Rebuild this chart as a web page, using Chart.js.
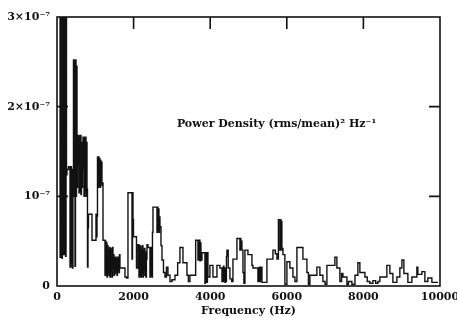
<!DOCTYPE html>
<html>
<head>
<meta charset="utf-8">
<script src="https://cdn.jsdelivr.net/npm/chart.js@4/dist/chart.umd.min.js"></script>
<style>
html,body{margin:0;padding:0;background:#fff;}
#wrap{width:457px;height:318px;position:relative;}
</style>
</head>
<body>
<div id="wrap"><canvas id="c" width="457" height="318"></canvas></div>
<script>
// Frequency (Hz) of each step of the spectrum
const freqHz = [
  80,92,104,116,128,140,152,164,176,188,200,212,224,236,248,260,300,340,
  365,378,391,404,417,430,444,457,470,483,496,509,522,535,548,
  574,587,600,613,626,639,652,665,679,705,718,731,744,757,770,783,796,
  809,822,914,1018,1031,1044,1057,1070,1083,1096,1109,1122,1135,1148,1161,1174,1187,1201,
  1253,1266,1279,1292,1305,1318,1331,1344,1357,1370,1383,1396,1409,1422,1435,1448,1461,1474,1487,1500,
  1514,1527,1540,1553,1566,1579,1592,1605,1618,1631,1644,1775,1814,1853,
  1958,1971,1984,1997,2075,2114,2140,2153,2166,2179,2192,2205,2218,2231,2244,2257,2270,2283,2296,2309,2322,2335,
  2349,2375,2427,2440,2453,2466,2479,2492,2506,2610,2623,2636,2649,2662,2675,2688,2715,2741,2780,2819,2858,2897,
  2950,3002,3080,3150,3210,3289,3393,3430,3471,3620,3680,3693,3706,3719,3732,3745,3758,3771,3785,
  3863,3876,3889,3902,3915,3928,3941,3993,4072,4176,4254,4307,4320,4333,4346,4359,4372,4385,4398,4411,4424,
  4437,4470,4515,4560,4594,4698,4776,4789,4802,4815,4828,4855,4880,4907,4985,5090,5116,
  5246,5259,5272,5285,5298,5311,5324,5337,5351,5481,5638,5700,5742,5781,5820,5833,5846,5859,5872,5885,5899,5950,
  6003,6081,6160,6212,6264,6421,6525,6565,6603,6786,6864,6943,7000,7047,7256,7308,7386,7430,7465,7569,7610,7700,7780,
  7856,7908,8039,8100,8169,8248,8320,8380,8430,8613,8691,8770,8874,8952,9005,9057,9161,9266,9396,9422,9527,9605,9683,9788,9866,9950
];
// Power density in units of 1e-7 (rms/mean)^2 Hz^-1
const powerE7 = [
  3.4,0.32,3.4,0.9,3.4,0.31,3.4,1.1,3.4,0.35,3.4,0.5,3.4,0.33,3.2,1.24,1.3,1.33,
  0.21,1.33,0.25,1.3,0.2,1.3,2.52,1.0,2.5,0.22,2.52,1.0,2.45,1.1,1.35,
  1.68,1.04,1.66,1.05,1.68,1.02,1.6,1.1,1.3,1.66,1.0,1.64,1.05,1.66,1.0,1.6,1.08,
  0.21,0.65,0.8,0.51,0.8,0.55,0.78,1.44,1.1,1.44,1.12,1.42,1.1,1.4,1.15,1.38,1.12,1.15,
  0.51,0.12,0.5,0.14,0.48,0.1,0.45,0.15,0.4,0.12,0.43,0.1,0.42,0.15,0.4,0.1,0.43,0.2,0.35,0.12,
  0.32,0.14,0.3,0.16,0.32,0.12,0.3,0.18,0.32,0.15,0.35,0.2,0.1,0.09,
  1.04,0.3,1.04,0.74,0.55,0.2,0.46,0.1,0.45,0.12,0.44,0.1,0.4,0.15,0.45,0.1,0.4,0.18,0.42,0.12,0.38,0.1,
  0.3,0.46,0.43,0.1,0.42,0.12,0.43,0.1,0.6,0.88,0.6,0.88,0.62,0.86,0.6,0.77,0.66,0.45,0.29,0.15,0.1,0.21,
  0.12,0.05,0.07,0.12,0.26,0.43,0.26,0.12,0.05,0.12,0.51,0.29,0.5,0.3,0.51,0.28,0.48,0.3,0.29,
  0.37,0.03,0.37,0.05,0.36,0.04,0.37,0.1,0.23,0.1,0.23,0.2,0.05,0.2,0.05,0.22,0.06,0.2,0.04,0.18,0.05,
  0.33,0.4,0.2,0.08,0.05,0.3,0.53,0.4,0.53,0.42,0.5,0.4,0.15,0.03,0.4,0.35,0.23,
  0.2,0.05,0.2,0.06,0.21,0.05,0.2,0.08,0.21,0.04,0.3,0.4,0.36,0.3,0.74,0.4,0.74,0.42,0.72,0.4,0.42,0.35,
  0.02,0.27,0.2,0.1,0.05,0.43,0.3,0.15,0.02,0.12,0.21,0.12,0.05,0.02,0.23,0.32,0.2,0.05,0.14,0.1,0.02,0.05,0.02,
  0.12,0.26,0.15,0.1,0.05,0.03,0.06,0.03,0.05,0.1,0.23,0.14,0.04,0.1,0.2,0.29,0.14,0.04,0.1,0.21,0.13,0.16,0.05,0.09,0.04,0.04
];
const yTickLabels = ['0', '10\u207B\u2077', '2\u00D710\u207B\u2077', '3\u00D710\u207B\u2077'];
const topTickValues = [2000, 4000, 6000, 8000];
const sideTickValues = [1, 2];
const xTitle = 'Frequency (Hz)';
const annotationText = 'Power Density (rms/mean)\u00B2 Hz\u207B\u00B9';

const FONT = '"DejaVu Serif", serif';
const INK = '#111';

const points = freqHz.map((f, i) => ({x: f, y: powerE7[i]}));

const frame = {
  id: 'frame',
  afterDatasetsDraw(chart) {
    const {ctx, chartArea: a, scales: {x, y}} = chart;
    ctx.save();
    ctx.strokeStyle = INK;
    ctx.lineWidth = 1.6;
    ctx.strokeRect(a.left, a.top, a.right - a.left, a.bottom - a.top);
    ctx.beginPath();
    topTickValues.forEach(v => {
      const px = x.getPixelForValue(v);
      ctx.moveTo(px, a.top); ctx.lineTo(px, a.top + 12);
    });
    sideTickValues.forEach(v => {
      const py = y.getPixelForValue(v);
      ctx.moveTo(a.left, py); ctx.lineTo(a.left + 11, py);
      ctx.moveTo(a.right, py); ctx.lineTo(a.right - 11, py);
    });
    ctx.stroke();
    ctx.font = 'bold 11px ' + FONT;
    ctx.fillStyle = INK;
    ctx.textBaseline = 'middle';
    ctx.textAlign = 'left';
    ctx.fillText(annotationText, x.getPixelForValue(3130), y.getPixelForValue(1.8));
    ctx.restore();
  }
};

new Chart(document.getElementById('c'), {
  type: 'line',
  data: {
    datasets: [{
      data: points,
      stepped: 'after',
      borderColor: INK,
      borderWidth: 1.4,
      pointRadius: 0,
      fill: false
    }]
  },
  options: {
    responsive: false,
    animation: false,
    events: [],
    layout: {padding: {left: 0, right: 17, top: 17, bottom: 0}},
    plugins: {legend: {display: false}, tooltip: {enabled: false}},
    scales: {
      x: {
        type: 'linear',
        min: 0, max: 10000,
        grid: {display: false, drawTicks: false},
        border: {display: false},
        ticks: {
          stepSize: 2000,
          padding: 5,
          maxRotation: 0,
          color: INK,
          font: {family: FONT, size: 11, weight: 'bold'},
          callback: v => String(v)
        },
        title: {
          display: true, text: xTitle, color: INK,
          padding: {top: 0, bottom: 0},
          font: {family: FONT, size: 11, weight: 'bold'}
        },
        afterFit(s) { s.height = 32; s.paddingLeft = 0; s.paddingRight = 0; }
      },
      y: {
        min: 0, max: 3,
        grid: {display: false, drawTicks: false},
        border: {display: false},
        ticks: {
          stepSize: 1,
          padding: 7,
          color: INK,
          font: {family: FONT, size: 11, weight: 'bold'},
          callback: v => yTickLabels[v]
        },
        afterFit(s) { s.width = 57; s.paddingTop = 0; s.paddingBottom = 0; }
      }
    }
  },
  plugins: [frame]
});
</script>
</body>
</html>
